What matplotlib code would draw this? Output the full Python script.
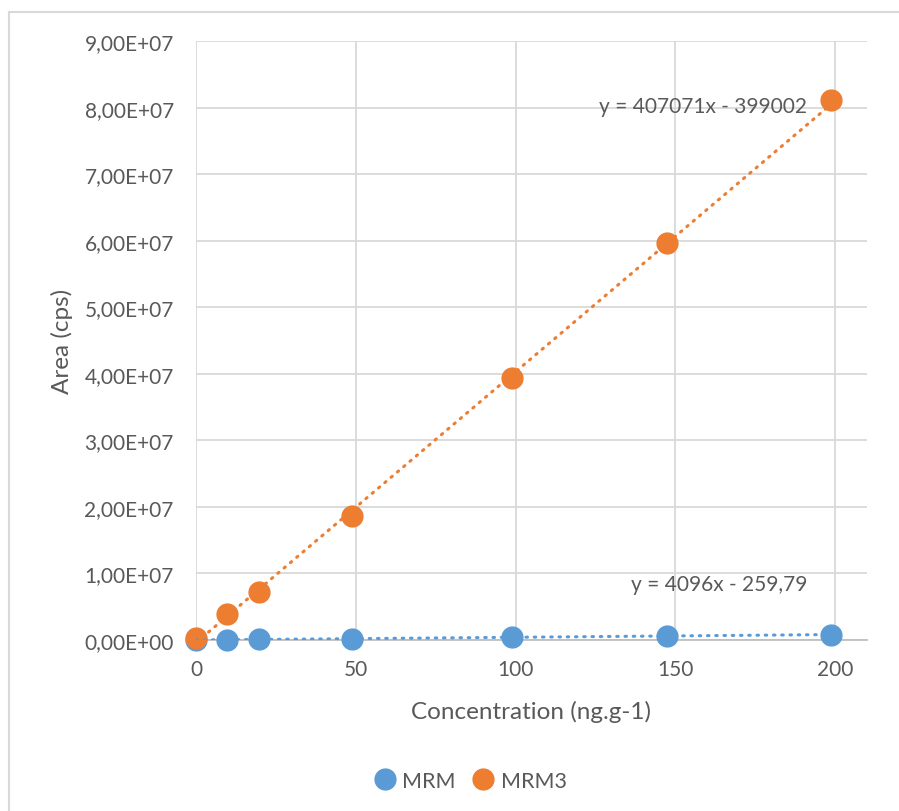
import numpy as np
import matplotlib.pyplot as plt
from matplotlib.ticker import FuncFormatter
from matplotlib.lines import Line2D

plt.rcParams['font.family'] = ['Lato', 'DejaVu Sans']

conc = [0, 9.8, 19.7, 48.7, 98.8, 147.5, 198.8]
mrm = [0, 38000, 79000, 198000, 402000, 610000, 812000]
mrm3 = [350000, 3.9e6, 7.25e6, 1.87e7, 3.94e7, 5.96e7, 8.12e7]
series_names = ['MRM', 'MRM3']
slopes = [4096, 407071]
intercepts = [-259.79, -399002]
eq_labels = ['y = 4096x - 259,79', 'y = 407071x - 399002']
eq_pos = [(191.2, 0.84e7), (191.2, 8.02e7)]
colors = ['#5B9BD5', '#ED7D31']
text_col = '#595959'

fig = plt.figure(figsize=(8.99, 8.12), dpi=100)
ax = fig.add_axes([0.218, 0.2106, 0.7464, 0.7374])

# outer chart border (left + top visible)
fig.add_artist(Line2D([9/899, 9/899], [0, 1 - 13/812], color='#d9d9d9', lw=1.5))
fig.add_artist(Line2D([9/899, 1], [1 - 13/812, 1 - 13/812], color='#d9d9d9', lw=1.5))

for ys, name, c in zip([mrm, mrm3], series_names, colors):
    ax.plot(conc, ys, 'o', ms=15, color=c, label=name, zorder=3, clip_on=False)

# trendlines
xs = np.array([min(conc), max(conc)])
for s, b, c, lab, pos in zip(slopes, intercepts, colors, eq_labels, eq_pos):
    ax.plot(xs, s * xs + b, color=c, lw=2.2, ls=(0, (0.5, 2.2)),
            dash_capstyle='round', zorder=4)
    ax.text(pos[0], pos[1], lab, ha='right', va='center', fontsize=15, color=text_col)

ax.set_xlim(0, 210)
ax.set_ylim(0, 9e7)
ax.set_xticks([0, 50, 100, 150, 200])
ax.set_yticks(np.arange(0, 9.1e7, 1e7))
ax.yaxis.set_major_formatter(FuncFormatter(
    lambda v, p: ('%.2E' % v).replace('.', ',')))
ax.grid(True, color='#d9d9d9', lw=1.3)
ax.set_axisbelow(True)
for sp in ['top', 'right', 'left']:
    ax.spines[sp].set_visible(False)
ax.spines['bottom'].set_color('#bfbfbf')
ax.spines['bottom'].set_linewidth(1.3)
ax.tick_params(length=0, labelsize=15, labelcolor=text_col)
ax.tick_params(axis='y', pad=16)
ax.tick_params(axis='x', pad=14)

ax.set_xlabel('Concentration (ng.g-1)', fontsize=17.5, color=text_col, labelpad=15)
ax.set_ylabel('Area (cps)', fontsize=17.5, color=text_col, labelpad=8)

fig.legend(loc='center', bbox_to_anchor=(0.517, 1 - 782/812), ncol=2, frameon=False,
           fontsize=15.5, labelcolor=text_col, handletextpad=-0.2, columnspacing=0.3,
           markerscale=1.0)

fig.savefig('out.png', dpi=100)
